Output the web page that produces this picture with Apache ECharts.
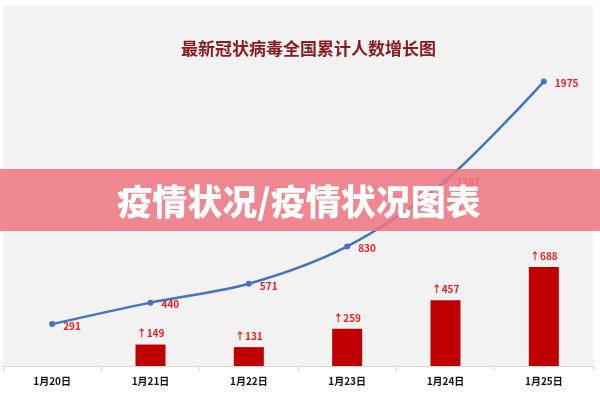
<!DOCTYPE html>
<html>
<head>
<meta charset="utf-8">
<script src="https://cdn.jsdelivr.net/npm/echarts@6/dist/echarts.min.js"></script>
<style>
  html, body { margin: 0; padding: 0; background: #fff; }
  #chart { width: 600px; height: 400px; }
</style>
</head>
<body>
<div id="chart"></div>
<script>
// 日期
const days = ['1月20日', '1月21日', '1月22日', '1月23日', '1月24日', '1月25日'];
// 累计人数
const totals = [291, 440, 571, 830, 1287, 1975];
// 每日新增
const increases = [null, 149, 131, 259, 457, 688];

let chart = echarts.init(document.getElementById('chart'));
chart.setOption({
  backgroundColor: '#fff',
  title: {
    text: '最新冠状病毒全国累计人数增长图',
    left: 176,
    top: 35,
    textStyle: {
      color: '#8b1a1f',
      fontSize: 17,
      fontWeight: 'bold',
      fontFamily: 'Noto Sans CJK SC'
    }
  },
  graphic: [
    {
      type: 'rect',
      z: -10,
      shape: { x: 3, y: 6, width: 590, height: 360 },
      style: { fill: '#f2f2f2' }
    },
    {
      type: 'rect',
      z: 100,
      shape: { x: 0, y: 169, width: 600, height: 62 },
      style: { fill: 'rgba(238,118,128,0.86)' }
    },
    {
      type: 'text',
      z: 101,
      x: 299,
      y: 202,
      style: {
        text: '疫情状况/疫情状况图表',
        fill: '#fff',
        font: '900 35px "Noto Sans CJK SC"',
        textAlign: 'center',
        textVerticalAlign: 'middle'
      }
    }
  ],
  grid: { left: 3, right: 7, top: 6, bottom: 34 },
  xAxis: {
    type: 'category',
    data: days,
    axisLine: { lineStyle: { color: '#d9d9d9' } },
    axisTick: { show: true, length: 5, lineStyle: { color: '#d9d9d9' } },
    axisLabel: {
      color: '#111',
      fontSize: 10,
      fontWeight: 'bold',
      fontFamily: 'Noto Sans CJK SC',
      margin: 10
    }
  },
  yAxis: {
    type: 'value',
    min: 0,
    max: 2500,
    show: false,
    splitLine: { show: false }
  },
  series: [
    {
      type: 'bar',
      data: increases,
      barWidth: 30,
      itemStyle: { color: '#c00000' },
      label: {
        show: true,
        position: 'top',
        distance: 6,
        formatter: '↑{c}',
        color: '#f01c1c',
        fontSize: 10,
        fontWeight: 'bold',
        fontFamily: 'Noto Sans CJK SC'
      }
    },
    {
      type: 'line',
      data: totals,
      smooth: 0.3,
      symbol: 'circle',
      symbolSize: 6,
      lineStyle: { color: '#4472c4', width: 2.5 },
      itemStyle: { color: '#4472c4' },
      label: {
        show: true,
        position: 'right',
        distance: 8,
        offset: [0, 2],
        color: '#f01c1c',
        fontSize: 10,
        fontWeight: 'bold',
        fontFamily: 'Noto Sans CJK SC'
      }
    }
  ]
});

window.addEventListener('resize', function() {
  chart.resize();
});
</script>
</body>
</html>
